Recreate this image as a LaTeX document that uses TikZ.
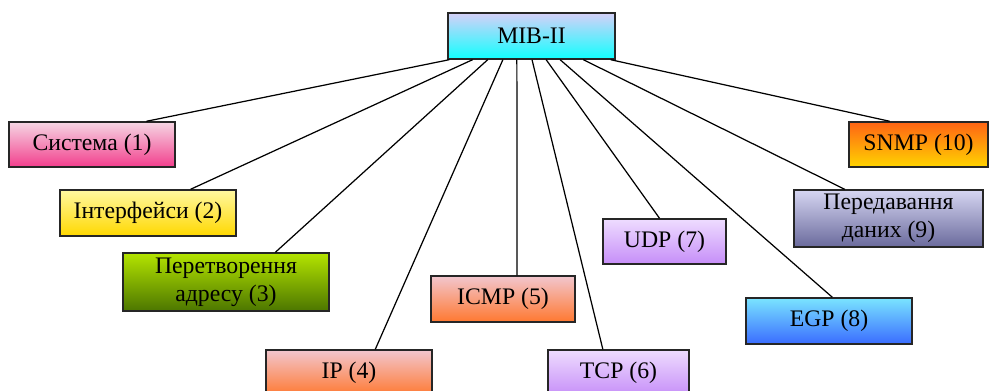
\documentclass[tikz,border=0pt]{standalone}
\usepackage{fontspec}
\setmainfont{Liberation Serif}
\usetikzlibrary{calc}
\definecolor{mibtop}{HTML}{D6D0F8}
\definecolor{mibbot}{HTML}{10FFFF}
\definecolor{systop}{HTML}{F6D6E4}
\definecolor{sysbot}{HTML}{F23E8C}
\definecolor{intftop}{HTML}{FFF8A0}
\definecolor{intfbot}{HTML}{FFD800}
\definecolor{addrtop}{HTML}{B4E400}
\definecolor{addrbot}{HTML}{4C7600}
\definecolor{iptop}{HTML}{F2C6CE}
\definecolor{ipbot}{HTML}{FF7830}
\definecolor{tcptop}{HTML}{EEDCFF}
\definecolor{tcpbot}{HTML}{C68EF8}
\definecolor{egptop}{HTML}{7AE4FF}
\definecolor{egpbot}{HTML}{3A6CFF}
\definecolor{datatop}{HTML}{D6D6F2}
\definecolor{databot}{HTML}{6A6A9C}
\definecolor{snmptop}{HTML}{FF6414}
\definecolor{snmpbot}{HTML}{FFD400}
\tikzset{
  block/.style={draw=black!85, line width=0.8pt, inner sep=0pt, align=center,
    font=\fontsize{13.5}{15.8}\selectfont},
  shade/.style={top color=#1top, bottom color=#1bot},
  link/.style={line width=0.7pt}
}

\begin{document}
\begin{tikzpicture}[x=0.02cm, y=-0.02cm]
\clip (0,0) rectangle (1003,391);
% root
\node[block, shade=mib, minimum width=3.34cm, minimum height=0.92cm] (mib) at (531.5,36) {MIB-II};
% groups
\node[block, shade=sys, minimum width=3.32cm, minimum height=0.9cm] (sys) at (92,144.5) {Система (1)};
\node[block, shade=intf, minimum width=3.52cm, minimum height=0.92cm] (intf) at (148,213) {Інтерфейси (2)};
\node[block, shade=addr, minimum width=4.12cm, minimum height=1.16cm] (addr) at (226,282) {Перетворення\\адресу (3)};
\node[block, shade=ip, minimum width=3.32cm, minimum height=0.92cm] (ip) at (349,373) {IP (4)};
\node[block, shade=ip, minimum width=2.88cm, minimum height=0.92cm] (icmp) at (503,299) {ICMP (5)};
\node[block, shade=tcp, minimum width=2.82cm, minimum height=0.92cm] (tcp) at (618.5,373) {TCP (6)};
\node[block, shade=tcp, minimum width=2.46cm, minimum height=0.9cm] (udp) at (664.5,241.5) {UDP (7)};
\node[block, shade=egp, minimum width=3.32cm, minimum height=0.92cm] (egp) at (829,321) {EGP (8)};
\node[block, shade=data, minimum width=3.78cm, minimum height=1.14cm] (data) at (888.5,218.5) {Передавання\\даних (9)};
\node[block, shade=snmp, minimum width=2.78cm, minimum height=0.9cm] (snmp) at (918.5,144.5) {SNMP (10)};
% links
\foreach \n/\a/\b in {sys/0.012/0.825, intf/0.15/0.74, addr/0.24/0.738, ip/0.33/0.657,
  icmp/0.413/0.597, tcp/0.503/0.39, udp/0.587/0.46, egp/0.67/0.52, data/0.808/0.27, snmp/0.97/0.295}
  \draw[link] ($(mib.south west)!\a!(mib.south east)$) -- ($(\n.north west)!\b!(\n.north east)$);
\end{tikzpicture}
\end{document}
